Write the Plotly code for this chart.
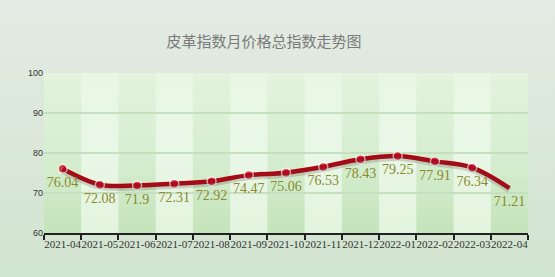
import base64
import plotly.graph_objects as go

months = ["2021-04", "2021-05", "2021-06", "2021-07", "2021-08", "2021-09", "2021-10",
          "2021-11", "2021-12", "2022-01", "2022-02", "2022-03", "2022-04"]
values = [76.04, 72.08, 71.9, 72.31, 72.92, 74.47, 75.06, 76.53, 78.43, 79.25, 77.91, 76.34, 71.21]
y_ticks = [60, 70, 80, 90, 100]
title_text = "皮革指数月价格总指数走势图"

n = len(months)

# background gradients as SVG images
paper_svg = """<svg xmlns='http://www.w3.org/2000/svg' width='555' height='277' preserveAspectRatio='none'>
<defs><linearGradient id='p' x1='0' y1='0' x2='0' y2='1'>
<stop offset='0' stop-color='#e4ebe4'/><stop offset='1' stop-color='#d1e4cf'/></linearGradient></defs>
<rect width='555' height='277' fill='url(#p)'/></svg>"""

cols = []
for i in range(n):
    g = "a" if i % 2 == 0 else "b"
    cols.append(f"<rect x='{i}' y='0' width='1.02' height='100' fill='url(#{g})'/>")
band_svg = f"""<svg xmlns='http://www.w3.org/2000/svg' width='{n*40}' height='160' viewBox='0 0 {n} 100' preserveAspectRatio='none'>
<defs>
<linearGradient id='a' x1='0' y1='0' x2='0' y2='1'>
<stop offset='0' stop-color='#e3f3de'/><stop offset='0.5' stop-color='#d7eed1'/><stop offset='1' stop-color='#c4e4bb'/></linearGradient>
<linearGradient id='b' x1='0' y1='0' x2='0' y2='1'>
<stop offset='0' stop-color='#e8f6e4'/><stop offset='0.5' stop-color='#e9f7e6'/><stop offset='1' stop-color='#e3f4de'/></linearGradient>
</defs>{''.join(cols)}</svg>"""


def uri(svg):
    return "data:image/svg+xml;base64," + base64.b64encode(svg.encode()).decode()


fig = go.Figure()

# shadow of the line
fig.add_trace(go.Scatter(
    x=months, y=values, mode="lines", yaxis="y2",
    line=dict(color="rgba(90,70,70,0.22)", width=6, shape="spline", smoothing=1),
    hoverinfo="skip", showlegend=False))

marker_sizes = [9] * (n - 1) + [0]
fig.add_trace(go.Scatter(
    x=months, y=values, mode="lines+markers",
    line=dict(color="#b3000e", width=4.5, shape="spline", smoothing=1),
    marker=dict(size=marker_sizes, color="#c8001a", line=dict(color="white", width=1.5)),
    showlegend=False))

# value labels, placed on a slightly shifted axis so they sit below the points
fig.add_trace(go.Scatter(
    x=months, y=values, mode="text", yaxis="y3",
    text=[f"{v:g}" for v in values], textposition="middle center",
    textfont=dict(family="Liberation Serif", size=14, color="#8a8a2c"),
    hoverinfo="skip", showlegend=False))

fig.update_layout(
    width=555, height=277,
    margin=dict(l=44, r=27, t=73, b=44),
    paper_bgcolor="#dfe9de", plot_bgcolor="rgba(0,0,0,0)",
    title=dict(text=title_text, x=264 / 555, xanchor="center", y=1 - 42 / 277, yanchor="middle",
               xref="container", yref="container",
               font=dict(family="Noto Sans CJK SC", size=15, color="#7a7a7a")),
    xaxis=dict(type="category", range=[-0.5, n - 0.5], tickson="boundaries",
               ticks="outside", ticklen=5, tickcolor="#222", tickwidth=1.5,
               showline=True, linecolor="#222", linewidth=1.5, showgrid=False,
               tickfont=dict(family="Liberation Serif", size=11, color="#333"),
               tickangle=0, fixedrange=True),
    yaxis=dict(range=[60, 100], tickvals=y_ticks, showgrid=True, gridcolor="#c6e0bf",
               gridwidth=2, zeroline=False, showline=False,
               tickfont=dict(family="Liberation Sans", size=9, color="#333"), ticks="", fixedrange=True),
    yaxis2=dict(range=[60.5, 100.5], overlaying="y", visible=False, fixedrange=True),
    yaxis3=dict(range=[63.7, 103.7], overlaying="y", visible=False, fixedrange=True),
    images=[
        dict(source=uri(paper_svg), xref="paper", yref="paper", x=-44 / 484, y=1 + 73 / 160,
             sizex=555 / 484, sizey=277 / 160, sizing="stretch", layer="below",
             xanchor="left", yanchor="top"),
        dict(source=uri(band_svg), xref="paper", yref="paper", x=0, y=1, sizex=1, sizey=1,
             sizing="stretch", layer="below", xanchor="left", yanchor="top"),
    ],
)

fig.write_html("out.html")
